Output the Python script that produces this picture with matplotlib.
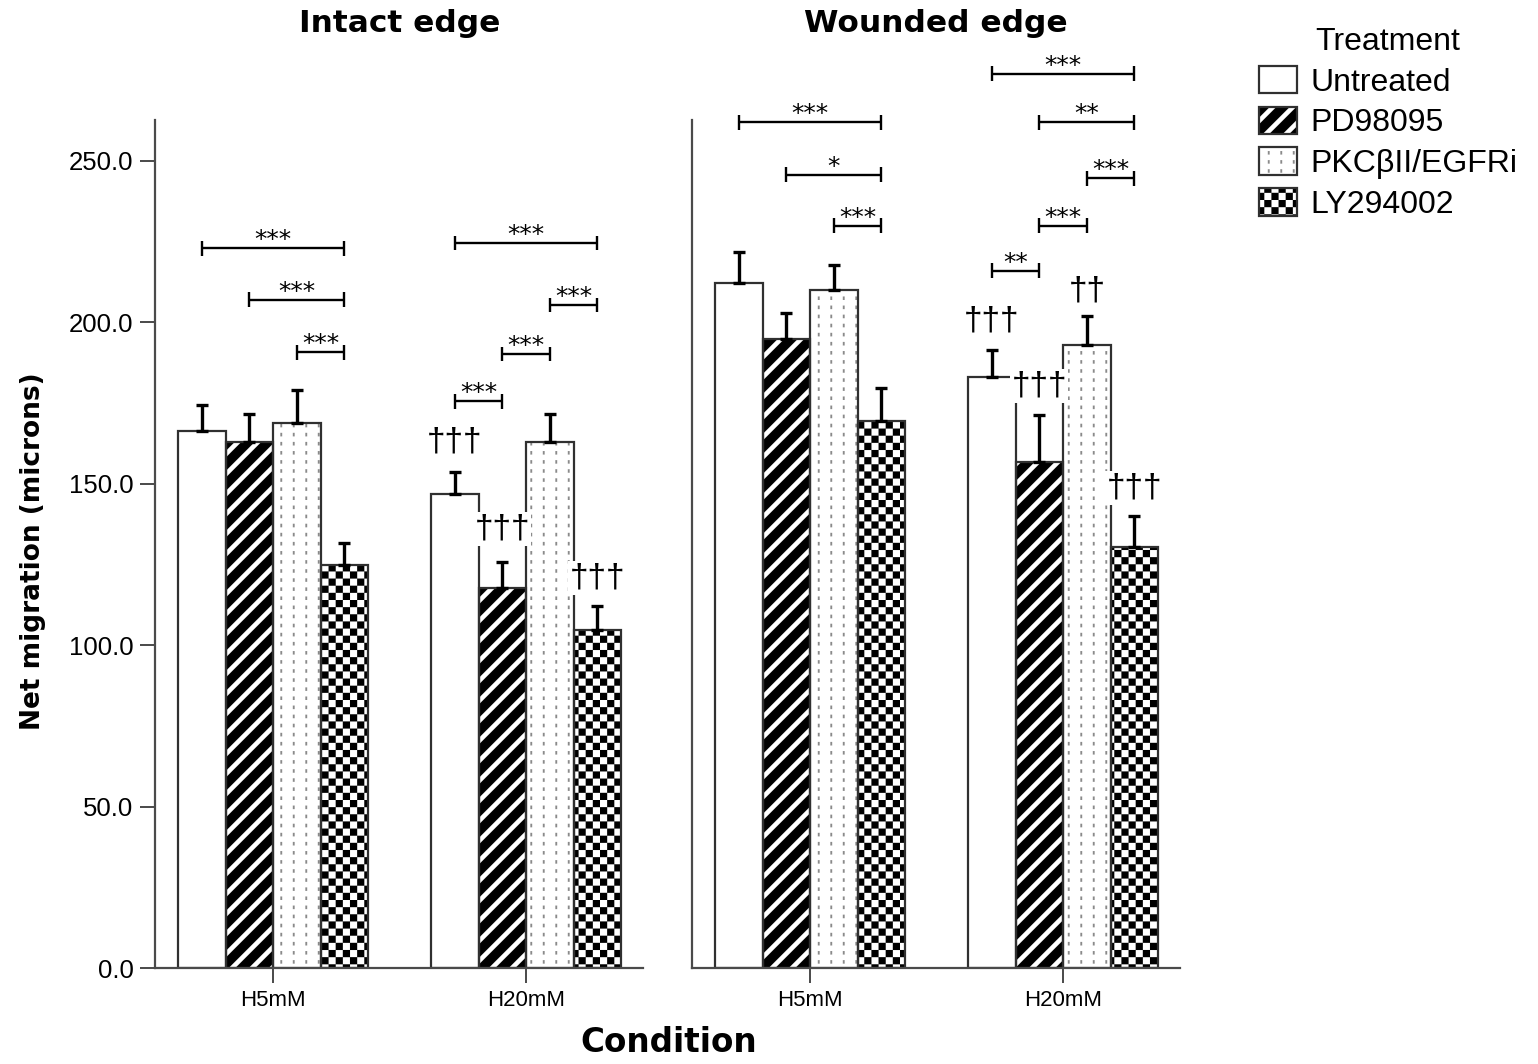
import numpy as np
import matplotlib
matplotlib.use('Agg')
import matplotlib.pyplot as plt
import matplotlib.hatch as mhatch
from matplotlib.path import Path
from matplotlib.patches import Patch
from matplotlib.legend_handler import HandlerTuple

# ---------------- data ----------------
conditions = ['H5mM', 'H20mM']
treatments = ['Untreated', 'PD98095', 'PKCβII/EGFRi', 'LY294002']
panel_titles = ['Intact edge', 'Wounded edge']

intact_mean_h5 = [166.4, 163.0, 168.8, 124.8]
intact_mean_h20 = [146.8, 117.7, 163.0, 104.7]
intact_err_h5 = [8.0, 8.6, 10.2, 6.9]
intact_err_h20 = [6.9, 8.1, 8.6, 7.4]

wounded_mean_h5 = [212.2, 194.9, 210.0, 169.5]
wounded_mean_h20 = [183.1, 156.8, 193.0, 130.4]
wounded_err_h5 = [9.6, 8.0, 7.8, 10.2]
wounded_err_h20 = [8.3, 14.5, 9.0, 9.6]

# significance brackets: (condition index, bar i, bar j, height, label)
intact_sig = [(0, 0, 3, 223.0, '***'), (0, 1, 3, 207.0, '***'), (0, 2, 3, 190.8, '***'),
              (1, 0, 3, 224.6, '***'), (1, 2, 3, 205.4, '***'), (1, 1, 2, 190.2, '***'),
              (1, 0, 1, 175.6, '***')]
wounded_sig = [(0, 0, 3, 262.0, '***'), (0, 1, 3, 245.7, '*'), (0, 2, 3, 229.9, '***'),
               (1, 0, 3, 277.0, '***'), (1, 1, 3, 262.0, '**'), (1, 2, 3, 244.7, '***'),
               (1, 1, 2, 229.9, '***'), (1, 0, 1, 216.0, '**')]
# dagger marks: (condition index, bar, height, label)
intact_dag = [(1, 0, 163.0, '†††'), (1, 1, 136.0, '†††'), (1, 3, 120.8, '†††')]
wounded_dag = [(1, 0, 200.4, '†††'), (1, 1, 180.3, '†††'), (1, 2, 209.7, '††'),
               (1, 3, 148.7, '†††')]

y_ticks = [0, 50, 100, 150, 200, 250]

# ---------------- custom fill patterns (as hatches) ----------------
plt.rcParams['hatch.linewidth'] = 0.05


class _PolyHatch(mhatch.HatchPatternBase):
    key = ''

    def __init__(self, hatch, density):
        self.polys = self.build() if (hatch and self.key in hatch) else []
        self.num_vertices = 5 * len(self.polys)

    def build(self):
        return []

    def set_vertices_and_codes(self, vertices, codes):
        for k, poly in enumerate(self.polys):
            vertices[5 * k:5 * k + 4] = poly
            vertices[5 * k + 4] = poly[0]
            codes[5 * k] = Path.MOVETO
            codes[5 * k + 1:5 * k + 4] = Path.LINETO
            codes[5 * k + 4] = Path.CLOSEPOLY


class StripeHatch(_PolyHatch):
    key = '/'

    def build(self):
        n, w = 5, 0.065
        return [np.array([[0, c - w / 2], [0, c + w / 2], [1, 1 + c + w / 2], [1, 1 + c - w / 2]])
                for c in np.arange(-n, n + 1) / n]


class CheckerHatch(_PolyHatch):
    key = 'O'

    def build(self):
        n = 14
        s = 1.0 / n
        return [np.array([[i * s, j * s], [(i + 1) * s, j * s],
                          [(i + 1) * s, (j + 1) * s], [i * s, (j + 1) * s]])
                for i in range(n) for j in range(n) if (i + j) % 2 == 0]


class DotLineHatch(_PolyHatch):
    key = 'o'

    def build(self):
        ncol, nrow = 8, 11
        hw, h = 0.009, 0.035
        polys = []
        for i in range(ncol):
            cx = (i + 0.5) / ncol
            for j in range(nrow):
                y0 = j / nrow
                polys.append(np.array([[cx - hw, y0], [cx + hw, y0],
                                       [cx + hw, y0 + h], [cx - hw, y0 + h]]))
        return polys


mhatch._hatch_types[:] = [StripeHatch, CheckerHatch, DotLineHatch]

styles = [dict(face='white', hatch=None, hcolor='white'),
          dict(face='black', hatch='/', hcolor='white'),
          dict(face='white', hatch='o', hcolor='#8a8a8a'),
          dict(face='white', hatch='O', hcolor='black')]

TICKFONT = 'Liberation Sans'
EDGE = '#303030'

fig = plt.figure(figsize=(15.38, 10.64), dpi=100)
W_FIG, H_FIG = 1538, 1064
ax1 = fig.add_axes([155 / W_FIG, 96 / H_FIG, 488 / W_FIG, 848 / H_FIG])
ax2 = fig.add_axes([692 / W_FIG, 96 / H_FIG, 488 / W_FIG, 848 / H_FIG])

W = 0.188
offsets = (np.arange(4) - 1.5) * W

panels = [
    (ax1, np.array([intact_mean_h5, intact_mean_h20]), np.array([intact_err_h5, intact_err_h20]),
     intact_sig, intact_dag),
    (ax2, np.array([wounded_mean_h5, wounded_mean_h20]), np.array([wounded_err_h5, wounded_err_h20]),
     wounded_sig, wounded_dag),
]

xc = np.arange(len(conditions))
for pi, (ax, means, errs, sigs, dags) in enumerate(panels):
    for t in range(len(treatments)):
        st = styles[t]
        x = xc + offsets[t]
        h = means[:, t]
        ax.bar(x, h, W, color=st['face'], edgecolor=st['hcolor'], hatch=st['hatch'],
               linewidth=0, zorder=2)
        ax.bar(x, h, W, fill=False, edgecolor=EDGE, linewidth=1.6, zorder=2.1)
        ax.errorbar(x, h, yerr=[np.zeros_like(h), errs[:, t]], fmt='none', ecolor='black',
                    elinewidth=2.4, capsize=4.5, capthick=2.4, zorder=3)
    for (c, i, j, y, lab) in sigs:
        x1 = c + offsets[i]
        x2 = c + offsets[j]
        d = 2.3
        kw = dict(color='black', lw=1.7, clip_on=False, zorder=5, solid_capstyle='butt')
        ax.plot([x1, x2], [y, y], **kw)
        ax.plot([x1, x1], [y - d, y + d], **kw)
        ax.plot([x2, x2], [y - d, y + d], **kw)
        ax.text((x1 + x2) / 2, y + 0.3, lab, ha='center', va='baseline', fontsize=18,
                clip_on=False, zorder=5)
    for (c, b, y, lab) in dags:
        ax.text(c + offsets[b], y, lab, ha='center', va='center', fontsize=24,
                family=TICKFONT, zorder=4,
                bbox=dict(facecolor='white', edgecolor='none', pad=1.0))

    ax.set_xlim(-0.467, 1.462)
    ax.set_ylim(0, 262.7)
    ax.set_xticks(xc, conditions)
    for s in ['top', 'right']:
        ax.spines[s].set_visible(False)
    for s in ['left', 'bottom']:
        ax.spines[s].set_color('#4a4a4a')
        ax.spines[s].set_linewidth(1.6)
    ax.tick_params(axis='both', length=10.5, width=1.4, color='#4a4a4a', pad=5)
    for lbl in ax.get_xticklabels():
        lbl.set_fontfamily(TICKFONT)
        lbl.set_fontsize(16)
    if pi == 0:
        ax.set_yticks(y_ticks, [f'{v:.1f}' for v in y_ticks])
        for lbl in ax.get_yticklabels():
            lbl.set_fontfamily(TICKFONT)
            lbl.set_fontsize(18.5)
    else:
        ax.set_yticks(y_ticks)
        ax.tick_params(axis='y', left=False, labelleft=False)

fig.text(400 / W_FIG, 1 - 23 / H_FIG, panel_titles[0], ha='center', va='center',
         fontsize=22.5, fontweight='bold')
fig.text(936 / W_FIG, 1 - 23 / H_FIG, panel_titles[1], ha='center', va='center',
         fontsize=22.5, fontweight='bold')
fig.text(669 / W_FIG, 1 - 1043 / H_FIG, 'Condition', ha='center', va='center',
         fontsize=23.5, fontweight='bold')
fig.text(33 / W_FIG, 1 - 551 / H_FIG, 'Net migration (microns)', ha='center', va='center',
         rotation=90, fontsize=19, fontweight='bold')

# legend
handles = []
for st in styles:
    fill = Patch(facecolor=st['face'], edgecolor=st['hcolor'], hatch=st['hatch'], linewidth=0)
    border = Patch(facecolor='none', edgecolor=EDGE, linewidth=1.6)
    handles.append((fill, border))
leg = fig.legend(handles, treatments, title='Treatment', loc='upper left',
                 bbox_to_anchor=(1259 / W_FIG, 1 - 27 / H_FIG), frameon=False,
                 prop=dict(family=TICKFONT, size=23),
                 title_fontproperties=dict(family=TICKFONT, size=23),
                 handlelength=1.2, handleheight=0.95, handletextpad=0.4, labelspacing=0.28,
                 borderpad=0, borderaxespad=0,
                 handler_map={tuple: HandlerTuple(ndivide=1, pad=0)})

fig.savefig('out.png', dpi=100)
